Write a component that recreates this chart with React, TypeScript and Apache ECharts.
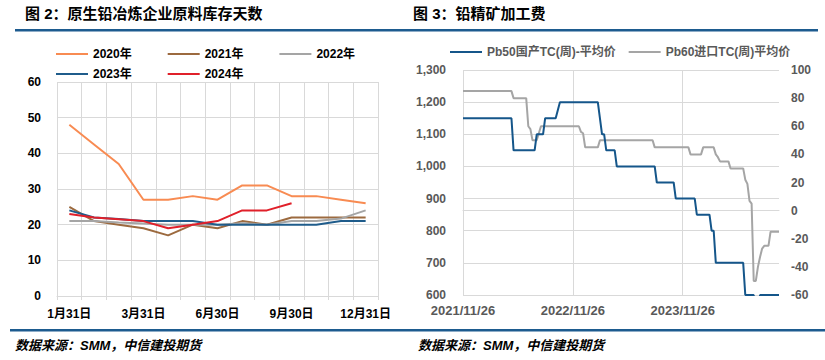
import React, { useEffect, useRef } from "react";
import * as echarts from "echarts";

// ---------- Figure 2 data ----------
const categories = ["1月31日", "2月15日", "2月28日", "3月31日", "4月30日", "5月31日", "6月30日", "7月31日", "8月31日", "9月30日", "10月31日", "11月30日", "12月31日"];
const seriesNames = ["2020年", "2021年", "2022年", "2023年", "2024年"];
const y2020 = [48, 42.5, 37, 27, 27, 28, 27, 31, 31, 28, 28, 27, 26];
const y2021 = [25, 21, 20, 19, 17, 20, 19, 21, 20, 22, 22, 22, 22];
const y2022 = [21, 21, 20.6, 20.3, 20, 20, 20, 20.4, 20, 21, 21, 21.7, 24];
const y2023 = [24, 22, 21.6, 21, 21, 21, 20, 20, 20, 20, 20, 21, 21];
const y2024 = [23, 22, 21.5, 21, 19, 20, 21, 24, 24, 26];
const leftColors = ["#F88B52", "#9C6A3F", "#A5A5A5", "#1F5C8B", "#E0202A"];

// ---------- Figure 3 data ----------
const tcNames = ["Pb50国产TC(周)-平均价", "Pb60进口TC(周)平均价"];
const pb50Dates = ["2021/11/26", "2022/05/06", "2022/05/13", "2022/07/22", "2022/07/29", "2022/08/19", "2022/08/26", "2022/09/30", "2022/10/14", "2023/02/17", "2023/03/03", "2023/03/10", "2023/03/17", "2023/04/14", "2023/04/21", "2023/08/25", "2023/09/01", "2023/10/27", "2023/11/03", "2024/01/05", "2024/01/12", "2024/02/23", "2024/03/01", "2024/03/08", "2024/03/15", "2024/06/14", "2024/06/21", "2024/07/19", "2024/07/26", "2024/08/02", "2024/08/09", "2024/10/11"];
const pb50TC = [1150, 1150, 1050, 1050, 1100, 1100, 1150, 1150, 1200, 1200, 1100, 1100, 1050, 1050, 1000, 1000, 950, 950, 900, 900, 850, 850, 800, 800, 700, 700, 600, 600, 500, 500, 600, 600];
const pb60Dates = ["2021/11/26", "2022/05/06", "2022/05/13", "2022/06/24", "2022/07/01", "2022/07/08", "2022/07/15", "2022/07/29", "2022/08/05", "2022/08/12", "2022/12/16", "2022/12/23", "2022/12/30", "2023/01/06", "2023/02/17", "2023/02/24", "2023/08/18", "2023/08/25", "2023/12/15", "2023/12/22", "2024/01/26", "2024/02/02", "2024/03/08", "2024/03/15", "2024/03/22", "2024/03/29", "2024/04/26", "2024/05/03", "2024/06/14", "2024/06/21", "2024/06/28", "2024/07/05", "2024/07/12", "2024/07/19", "2024/07/26", "2024/08/02", "2024/08/09", "2024/08/16", "2024/08/23", "2024/09/06", "2024/09/13", "2024/10/11"];
const pb60TC = [85, 85, 80, 80, 60, 58, 50, 50, 55, 60, 60, 56, 55, 45, 45, 50, 50, 45, 45, 40, 40, 45, 45, 40, 38, 35, 35, 30, 30, 22, 19, 7, 5, -50, -50, -40, -33, -27, -25, -25, -15, -15];
const xStartDate = "2021/11/26";
const xEndDate = "2024/10/11";
const xTickDays = 365;

const FONT = "'Liberation Sans', 'Noto Sans CJK SC', sans-serif";
const DAY = 86400000;

function toUTC(s: string): number {
  const [y, m, d] = s.split("/").map(Number);
  return Date.UTC(y, m - 1, d);
}
const t0 = toUTC(xStartDate);
function dayOf(s: string): number {
  return Math.round((toUTC(s) - t0) / DAY);
}
function fmtDay(v: number): string {
  const dt = new Date(t0 + v * DAY);
  return `${dt.getUTCFullYear()}/${dt.getUTCMonth() + 1}/${dt.getUTCDate()}`;
}
function addCommas(v: number): string {
  return String(v).replace(/\B(?=(\d{3})+(?!\d))/g, ",");
}

export default function App() {
  const ref = useRef<HTMLDivElement>(null);
  useEffect(() => {
    if (!ref.current) return;
    const chart = echarts.init(ref.current, undefined, { renderer: "svg" });
    const leftData = [y2020, y2021, y2022, y2023, y2024];
    const grey = "#D9D9D9";
    const legendBase = {
      icon: "rect",
      itemWidth: 32,
      itemHeight: 2,
      textStyle: { fontFamily: FONT, fontWeight: "bold" as const, fontSize: 12, color: "#000" },
    };
    const option: any = {
      animation: false,
      backgroundColor: "#fff",
      textStyle: { fontFamily: FONT },
      grid: [
        { left: 57, top: 82, width: 321, height: 214 },
        { left: 463, top: 70, width: 316, height: 225 },
      ],
      legend: [
        { ...legendBase, data: seriesNames.slice(0, 3), left: 51, top: 43, itemGap: 36 },
        { ...legendBase, data: seriesNames.slice(3), left: 51, top: 63, itemGap: 36 },
        {
          ...legendBase,
          data: tcNames,
          left: 445,
          top: 41,
          itemGap: 13,
          textStyle: { fontFamily: FONT, fontWeight: "bold", fontSize: 12, color: "#595959" },
        },
      ],
      xAxis: [
        {
          type: "category",
          gridIndex: 0,
          data: categories,
          boundaryGap: true,
          axisLine: { lineStyle: { color: grey } },
          axisTick: { show: true, interval: 0, length: 4, lineStyle: { color: grey } },
          axisLabel: { interval: 2, color: "#000", fontWeight: "bold", fontSize: 12, margin: 12, fontFamily: FONT },
          splitLine: { show: true, interval: 0, lineStyle: { color: grey } },
        },
        {
          type: "value",
          gridIndex: 1,
          min: 0,
          max: dayOf(xEndDate),
          interval: xTickDays,
          axisLine: { lineStyle: { color: grey } },
          axisTick: { show: false },
          axisLabel: {
            color: "#595959",
            fontWeight: "bold",
            fontSize: 13,
            margin: 9,
            fontFamily: FONT,
            formatter: (v: number) => (v % xTickDays === 0 ? fmtDay(v) : ""),
          },
          splitLine: { show: true, showMaxLine: false, lineStyle: { color: grey } },
        },
      ],
      yAxis: [
        {
          type: "value",
          gridIndex: 0,
          min: 0,
          max: 60,
          interval: 10,
          axisLine: { show: false },
          axisTick: { show: false },
          axisLabel: { color: "#000", fontWeight: "bold", fontSize: 12, margin: 16, fontFamily: FONT },
          splitLine: { lineStyle: { color: grey } },
        },
        {
          type: "value",
          gridIndex: 1,
          position: "left",
          min: 600,
          max: 1300,
          interval: 100,
          axisLine: { show: false },
          axisTick: { show: false },
          axisLabel: {
            color: "#595959",
            fontWeight: "bold",
            fontSize: 12,
            margin: 17,
            fontFamily: FONT,
            formatter: (v: number) => addCommas(v),
          },
          splitLine: { lineStyle: { color: grey } },
        },
        {
          type: "value",
          gridIndex: 1,
          position: "right",
          min: -60,
          max: 100,
          interval: 20,
          axisLine: { show: false },
          axisTick: { show: false },
          axisLabel: { color: "#595959", fontWeight: "bold", fontSize: 12, margin: 12, fontFamily: FONT },
          splitLine: { show: false },
        },
      ],
      series: [
        ...seriesNames.map((name, i) => ({
          name,
          type: "line",
          xAxisIndex: 0,
          yAxisIndex: 0,
          data: leftData[i],
          symbol: "none",
          color: leftColors[i],
          lineStyle: { width: 2, color: leftColors[i] },
        })),
        {
          name: tcNames[0],
          type: "line",
          xAxisIndex: 1,
          yAxisIndex: 1,
          data: pb50Dates.map((d, i) => [dayOf(d), pb50TC[i]]),
          symbol: "none",
          color: "#15568A",
          lineStyle: { width: 2, color: "#15568A" },
          z: 3,
        },
        {
          name: tcNames[1],
          type: "line",
          xAxisIndex: 1,
          yAxisIndex: 2,
          data: pb60Dates.map((d, i) => [dayOf(d), pb60TC[i]]),
          symbol: "none",
          color: "#A5A5A5",
          lineStyle: { width: 2, color: "#A5A5A5" },
          z: 2,
        },
      ],
      graphic: [
        {
          type: "text",
          left: 25,
          top: 6,
          style: { text: "图 2：原生铅冶炼企业原料库存天数", font: `bold 15px ${FONT}`, fill: "#000" },
        },
        {
          type: "text",
          left: 413,
          top: 6,
          style: { text: "图 3：铅精矿加工费", font: `bold 15px ${FONT}`, fill: "#000" },
        },
        { type: "rect", shape: { x: 15, y: 29, width: 803, height: 2.5 }, style: { fill: "#1D5B8F" } },
        { type: "rect", shape: { x: 10, y: 329, width: 815, height: 2.5 }, style: { fill: "#1D5B8F" } },
        {
          type: "text",
          left: 15,
          top: 339,
          style: { text: "数据来源：SMM，中信建投期货", font: `italic bold 13px ${FONT}`, fill: "#000" },
        },
        {
          type: "text",
          left: 418,
          top: 339,
          style: { text: "数据来源：SMM，中信建投期货", font: `italic bold 13px ${FONT}`, fill: "#000" },
        },
      ],
    };
    chart.setOption(option);
    return () => chart.dispose();
  }, []);
  return (
    <div
      ref={ref}
      style={{ position: "fixed", left: 0, top: 0, width: 825, height: 360, background: "#fff" }}
    />
  );
}
